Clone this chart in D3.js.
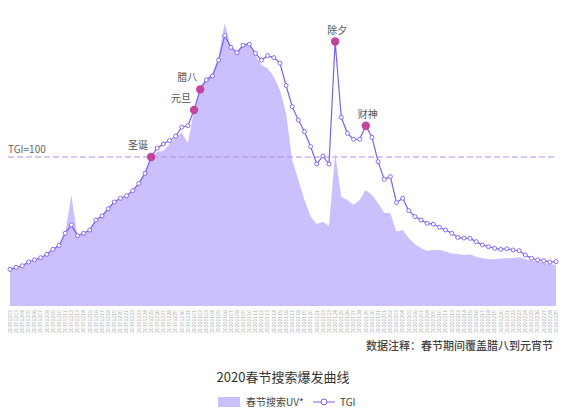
<!DOCTYPE html>
<html><head><meta charset="utf-8">
<script src="https://cdn.jsdelivr.net/npm/d3@7"></script>
<style>body{margin:0;background:#fff;font-family:"Noto Sans CJK SC","Noto Sans",sans-serif}</style>
</head><body><div id="chart"></div>
<script>
// dates 2019-12-02 .. 2020-02-29
var startDate = new Date(2019, 11, 2);
var dates = d3.range(90).map(i => d3.timeFormat("%Y%m%d")(d3.timeDay.offset(startDate, i)));

var uv = [24.6,26,27,29,30.6,32.2,34.4,37.8,41.8,48.8,74.5,46.5,48.8,51,57.7,60.4,65.3,69.8,72.3,74,
  77.4,82.3,89,99.1,103.6,104,108.7,113.6,116.3,109.2,131.5,147.2,152.8,156.2,167.3,190,174,170.7,175.8,176.3,
  168.5,161.7,159.5,153.9,145,129.3,98,84.6,71.1,60,55,56.6,53.7,102.5,73.4,71.1,67.8,71.1,77.9,74.5,
  68.9,62.6,62.2,49.9,51,45.4,41.6,38.7,37.1,37.6,37.6,36.5,35.3,34.9,34.2,34.7,33.1,32,31.5,31.3,
  31.8,32,32.2,32.7,31.3,30.4,29.8,29.1,28.2,27.5];

var tgi = [24.6,26,27,29.5,31,32.4,34.7,38,40.7,48.8,54.4,47.2,48.8,51,57.7,60.4,65.3,69.8,72.3,74,
  77.4,82.3,89,100,106,108.7,111,114,120,121,131.5,145.4,151.7,154.4,165,181.5,173.6,170,175,175.7,
  169.6,165,168,166.7,163,148,133.8,124.8,117,107,95.3,100.7,95.3,177.5,126.6,115.9,111.9,111.9,121,113.2,
  96.9,85,86.8,69.4,72.3,64,60,57.7,55.5,55,52.8,51,48.8,46,45.6,45.4,43.2,41,39.8,38.7,
  38,38.5,37.6,37.1,34.2,32,30.9,30.4,29.5,29.8];

var events = [{i:23,name:"圣诞"},{i:30,name:"元旦"},{i:31,name:"腊八"},{i:53,name:"除夕"},{i:58,name:"财神"}];

var width = 566, height = 415;
var svg = d3.select("#chart").append("svg").attr("width", width).attr("height", height);

var x = d3.scalePoint().domain(dates).range([10, 556]);
var y = d3.scaleLinear().domain([0, 200]).range([306, 8]);

svg.append("path").datum(uv)
  .attr("fill", "#cbbffd")
  .attr("d", d3.area().x((d, i) => x(dates[i])).y0(y(0)).y1(d => y(d)));

// TGI=100 reference
svg.append("line").attr("x1", 8).attr("x2", 556).attr("y1", y(100)).attr("y2", y(100))
  .attr("stroke", "#b98cf0").attr("stroke-width", 1.2).attr("stroke-dasharray", "6,3");
svg.append("text").attr("x", 8).attr("y", y(100) - 4).attr("font-size", 10).attr("fill", "#666").text("TGI=100");

svg.append("path").datum(tgi)
  .attr("fill", "none").attr("stroke", "#7d5ef2").attr("stroke-width", 1.2)
  .attr("d", d3.line().x((d, i) => x(dates[i])).y(d => y(d)));

svg.selectAll(".pt").data(tgi).enter().append("circle")
  .attr("cx", (d, i) => x(dates[i])).attr("cy", d => y(d)).attr("r", 2)
  .attr("fill", "#fff").attr("stroke", "#7d5ef2").attr("stroke-width", 0.9);

svg.selectAll(".ev").data(events).enter().append("circle")
  .attr("cx", d => x(dates[d.i])).attr("cy", d => y(tgi[d.i])).attr("r", 4.2)
  .attr("fill", "#c2449c");
svg.selectAll(".evt").data(events).enter().append("text")
  .attr("x", d => x(dates[d.i]) + (d.name === "除夕" || d.name === "财神" ? 12 : -3))
  .attr("y", d => y(tgi[d.i]) - 8)
  .attr("text-anchor", "end").attr("font-size", 10).attr("fill", "#555").text(d => d.name);

// x axis labels
svg.selectAll(".xl").data(dates).enter().append("text")
  .attr("transform", d => `translate(${x(d) + 1.8},310) rotate(-90)`)
  .attr("text-anchor", "end").attr("font-size", 5.2).attr("fill", "#aaa").text(d => d);

svg.append("text").attr("x", 553).attr("y", 350).attr("text-anchor", "end")
  .attr("font-size", 11).attr("font-weight", 500).attr("fill", "#444").text("数据注释：春节期间覆盖腊八到元宵节");
svg.append("text").attr("x", 283).attr("y", 382).attr("text-anchor", "middle")
  .attr("font-size", 13).attr("fill", "#333").text("2020春节搜索爆发曲线");

// legend
svg.append("rect").attr("x", 218).attr("y", 397).attr("width", 22).attr("height", 10).attr("fill", "#cbbffd");
svg.append("text").attr("x", 246).attr("y", 406).attr("font-size", 10).attr("fill", "#444").text("春节搜索UV*");
svg.append("line").attr("x1", 313).attr("x2", 335).attr("y1", 402).attr("y2", 402).attr("stroke", "#7d5ef2");
svg.append("circle").attr("cx", 324).attr("cy", 402).attr("r", 3).attr("fill", "#fff").attr("stroke", "#7d5ef2");
svg.append("text").attr("x", 340).attr("y", 406).attr("font-size", 10).attr("fill", "#444").text("TGI");
</script></body></html>
